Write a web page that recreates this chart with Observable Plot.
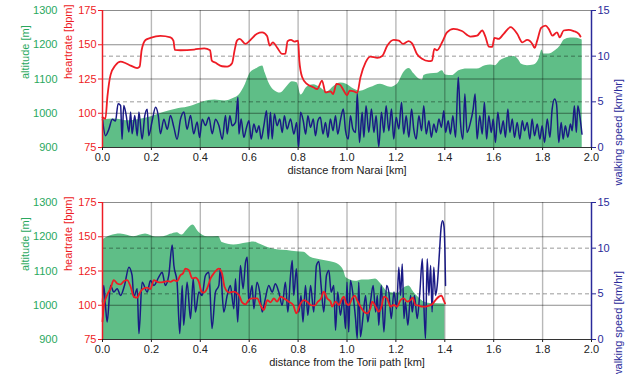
<!DOCTYPE html>
<html><head><meta charset="utf-8">
<script src="https://cdn.jsdelivr.net/npm/d3@7"></script>
<script src="https://cdn.jsdelivr.net/npm/@observablehq/plot@0.6"></script>
<style>
html,body{margin:0;padding:0;background:#fff;}
#chart svg{display:block;}
</style></head><body><div id="chart"></div>
<script>
// ---- tick labels ----
const distanceTicks = [0, 0.2, 0.4, 0.6, 0.8, 1.0, 1.2, 1.4, 1.6, 1.8, 2.0];
const heartTicks = [75, 100, 125, 150, 175];
const altitudeTicks = [900, 1000, 1100, 1200, 1300];
const speedTicks = [0, 5, 10, 15];
const speedGuides = [5, 10];
const titles = ["distance from Narai [km]", "distance from the Torii path [km]"];
const axisTitles = ["altitude [m]", "heartrate [bpm]", "walking speed [km/hr]"];

// ---- panel 1: from Narai  [km, value] ----
const naraiAltitude = [[0.0,980],[0.05,983],[0.1,978],[0.15,982],[0.2,990],[0.25,1002],[0.3,1012],[0.35,1018],[0.4,1030],[0.435,1037],[0.46,1039],[0.5,1036],[0.537,1044],[0.557,1052],[0.585,1085],[0.605,1118],[0.632,1131],[0.655,1138],[0.665,1118],[0.68,1090],[0.7,1068],[0.728,1059],[0.755,1078],[0.776,1092],[0.796,1089],[0.812,1053],[0.836,1076],[0.864,1083],[0.89,1075],[0.918,1062],[0.946,1078],[0.974,1088],[1.0,1084],[1.028,1071],[1.055,1064],[1.096,1075],[1.137,1085],[1.178,1076],[1.206,1085],[1.233,1120],[1.254,1131],[1.274,1115],[1.295,1100],[1.309,1097],[1.315,1110],[1.342,1115],[1.37,1117],[1.39,1124],[1.403,1112],[1.43,1110],[1.458,1124],[1.492,1129],[1.532,1129],[1.566,1139],[1.587,1141],[1.607,1139],[1.628,1154],[1.656,1163],[1.683,1166],[1.703,1155],[1.713,1144],[1.738,1139],[1.764,1141],[1.785,1158],[1.798,1185],[1.805,1173],[1.825,1173],[1.853,1183],[1.874,1198],[1.888,1214],[1.915,1220],[1.942,1219],[1.962,1214]];

const naraiHeart = [[0.0,97],[0.012,96],[0.02,112],[0.033,128],[0.053,135],[0.074,137.7],[0.095,136.5],[0.115,134.8],[0.142,133],[0.152,134],[0.16,146],[0.176,153.5],[0.196,155],[0.237,156.5],[0.278,155.4],[0.29,153],[0.296,146.2],[0.319,146],[0.375,146.5],[0.416,147.4],[0.44,146],[0.447,138.4],[0.461,137],[0.489,134.3],[0.51,134],[0.53,136.5],[0.54,145.7],[0.55,153],[0.561,154.3],[0.585,150.6],[0.605,153.5],[0.632,158],[0.653,159],[0.673,156.3],[0.684,149.4],[0.697,151.8],[0.714,148],[0.735,143.3],[0.748,143.6],[0.757,152.6],[0.771,153.5],[0.785,152.3],[0.8,153],[0.805,138.4],[0.816,126.7],[0.836,121.4],[0.862,119],[0.878,117.7],[0.898,123.8],[0.912,115.2],[0.933,116],[0.943,114],[0.957,121.4],[0.97,121],[0.987,116.5],[1.0,113],[1.011,116.5],[1.028,116],[1.042,115],[1.055,126.2],[1.076,137.2],[1.096,141.4],[1.124,140.4],[1.144,141.8],[1.165,149.4],[1.191,153.5],[1.212,153],[1.229,150.6],[1.252,152.6],[1.266,151],[1.286,143.3],[1.307,139.7],[1.334,138],[1.348,138.4],[1.357,147],[1.368,146],[1.389,151.8],[1.409,159],[1.436,161.6],[1.47,160],[1.505,156],[1.532,156.6],[1.553,160.4],[1.566,156],[1.58,148.7],[1.594,148.4],[1.603,155],[1.62,154.3],[1.641,158],[1.669,162.8],[1.696,158],[1.717,151.8],[1.737,153.5],[1.758,150.6],[1.767,147.7],[1.778,153],[1.794,162.3],[1.812,164],[1.825,161.6],[1.84,156.7],[1.859,159],[1.87,155.4],[1.886,160.4],[1.907,160.9],[1.927,160],[1.948,158],[1.955,156]];

const naraiSpeed = [[0.0,3.1],[0.012,1.3],[0.026,2.0],[0.04,3.1],[0.053,2.9],[0.064,4.8],[0.074,4.6],[0.08,0.9],[0.087,4.6],[0.097,3.5],[0.108,1.7],[0.115,3.9],[0.121,1.5],[0.132,3.5],[0.142,1.3],[0.149,3.9],[0.162,0.9],[0.173,3.5],[0.183,4.2],[0.189,1.3],[0.203,2.9],[0.217,4.4],[0.228,3.5],[0.237,1.5],[0.251,3.1],[0.265,2.0],[0.278,3.5],[0.292,2.2],[0.305,0.9],[0.319,3.1],[0.333,3.9],[0.346,2.0],[0.36,3.5],[0.373,1.5],[0.387,2.8],[0.397,1.1],[0.408,3.1],[0.421,2.4],[0.435,3.3],[0.449,1.5],[0.462,3.1],[0.476,2.4],[0.49,0.9],[0.503,3.5],
[0.51,1.47],[0.521,3.48],[0.53,2.39],[0.544,2.75],[0.554,5.49],[0.558,1.47],[0.567,3.12],[0.578,1.11],[0.589,2.2],[0.599,2.93],[0.608,0.92],[0.619,2.57],[0.63,1.65],[0.64,2.39],[0.649,0.92],[0.66,2.39],[0.671,4.03],[0.678,0.92],[0.687,3.85],[0.694,0.92],[0.703,3.66],[0.714,2.39],[0.725,3.12],[0.735,1.65],[0.744,3.48],[0.755,2.02],[0.769,3.12],[0.783,1.47],[0.794,2.75],[0.802,0.0],[0.81,3.85],[0.821,2.93],[0.831,1.47],[0.84,3.48],[0.851,2.2],[0.862,3.12],[0.871,1.29],[0.881,2.93],[0.891,3.3],[0.902,1.47],[0.912,2.75],[0.922,1.11],[0.932,3.12],[0.943,1.84],[0.953,3.48],[0.962,1.47],[0.974,3.12],[0.985,4.21],[0.994,1.84],
[1.005,0.92],[1.014,3.48],[1.024,2.02],[1.035,1.65],[1.042,5.9],[1.051,0.56],[1.062,3.85],[1.069,1.11],[1.078,4.58],[1.089,1.65],[1.1,4.21],[1.11,1.65],[1.119,3.48],[1.13,0.1],[1.141,3.85],[1.151,1.65],[1.16,4.58],[1.171,1.84],[1.182,4.21],[1.191,0.92],[1.201,3.3],[1.212,2.02],[1.223,4.95],[1.232,1.47],[1.242,3.48],[1.253,1.11],[1.264,4.21],[1.273,2.02],[1.283,0.92],[1.294,3.48],[1.305,1.84],[1.314,4.58],[1.324,1.47],[1.335,2.93],[1.345,1.11],[1.355,2.57],[1.365,1.65],[1.376,3.12],[1.386,2.2],[1.396,4.03],[1.403,1.65],[1.414,2.93],[1.423,1.47],[1.433,3.48],[1.444,1.11],[1.455,7.69],[1.464,2.75],[1.474,0.92],[1.482,5.86],[1.491,1.65],
[1.505,2.75],[1.516,4.21],[1.524,5.86],[1.532,0.92],[1.543,3.48],[1.553,1.47],[1.562,4.95],[1.571,0.92],[1.58,3.48],[1.59,1.65],[1.598,3.12],[1.607,0.56],[1.617,3.85],[1.628,1.47],[1.639,2.93],[1.648,1.11],[1.658,4.21],[1.666,1.65],[1.676,3.12],[1.685,1.11],[1.696,2.75],[1.707,0.92],[1.717,2.93],[1.726,1.84],[1.737,2.75],[1.748,0.92],[1.757,3.12],[1.767,1.29],[1.778,2.57],[1.789,0.92],[1.798,2.39],[1.808,0.56],[1.819,3.12],[1.83,1.11],[1.839,4.21],[1.849,5.31],[1.857,4.76],[1.866,0.56],[1.876,2.75],[1.884,0.92],[1.893,2.39],[1.903,1.11],[1.914,2.57],[1.921,1.84],[1.93,4.58],[1.938,1.65],[1.944,4.58],[1.952,3.48],[1.961,1.47]];

// ---- panel 2: from the Torii path  [km, value] ----
const toriiAltitude = [[0.0,1191],[0.033,1203],[0.074,1208],[0.128,1200],[0.176,1208],[0.217,1199],[0.25,1200],[0.278,1207],[0.305,1212],[0.325,1205],[0.346,1220],[0.37,1234],[0.393,1214],[0.43,1200],[0.475,1201],[0.49,1183],[0.537,1176],[0.59,1182],[0.619,1185],[0.645,1178],[0.673,1169],[0.714,1162],[0.755,1160],[0.795,1156],[0.824,1155],[0.851,1140],[0.89,1133],[0.933,1127],[0.967,1118],[0.987,1100],[0.997,1080],[1.035,1070],[1.062,1074],[1.089,1074],[1.117,1077],[1.138,1063],[1.17,1038],[1.206,1035],[1.232,1050],[1.253,1056],[1.273,1038],[1.294,1022],[1.314,1010],[1.34,1005],[1.4,1004]];

const toriiHeart = [[0.0,88.1],[0.006,100.2],[0.019,107.5],[0.033,112.3],[0.046,118.4],[0.06,115.9],[0.074,115.2],[0.087,117.6],[0.101,118.4],[0.115,113.5],[0.128,106.3],[0.142,105.5],[0.155,109.9],[0.169,112.3],[0.183,112.8],[0.196,111.8],[0.21,118.4],[0.224,117.1],[0.237,116.7],[0.251,117.1],[0.265,117.6],[0.278,117.1],[0.292,118.4],[0.305,117.6],[0.319,122.0],[0.329,123.2],[0.339,126.8],[0.353,125.6],[0.367,119.6],[0.38,120.1],[0.394,117.1],[0.405,109.9],[0.414,109.2],[0.428,112.3],[0.442,119.6],[0.455,123.2],[0.476,126.8],[0.489,123.2],[0.499,113.5],[0.517,109.4],[0.537,109.9],[0.558,107.5],[0.571,102.1],[0.585,100.7],[0.598,103.8],[0.612,105.0],[0.633,105.0],[0.646,100.2],[0.66,96.6],[0.674,103.8],[0.687,102.1],[0.701,105.0],[0.714,102.6],[0.728,106.3],[0.742,105.0],[0.762,102.6],[0.78,100.2],[0.793,94.1],[0.807,100.2],[0.824,103.8],[0.837,102.6],[0.851,100.2],[0.867,99.7],[0.881,102.6],[0.894,105.0],[0.905,109.9],[0.919,105.0],[0.933,102.6],[0.939,99.0],[0.953,102.6],[0.967,100.2],[0.98,105.0],[0.987,106.3],[0.997,101.4],[1.008,100.2],[1.021,105.0],[1.032,107.0],[1.041,103.8],[1.055,99.0],[1.069,95.3],[1.082,94.1],[1.096,97.8],[1.103,102.6],[1.117,99.0],[1.13,95.3],[1.141,99.0],[1.151,106.3],[1.164,105.0],[1.178,99.0],[1.191,100.2],[1.205,99.0],[1.219,103.8],[1.232,105.0],[1.246,102.6],[1.26,103.8],[1.269,105.5],[1.28,100.2],[1.294,99.7],[1.307,99.0],[1.321,99.0],[1.335,99.7],[1.348,100.7],[1.362,103.8],[1.376,106.3],[1.387,107.0],[1.396,103.3],[1.401,101.3]];

const toriiSpeed = [[0.0,4.1],[0.005,5.92],[0.012,3.74],[0.019,1.92],[0.033,5.92],[0.046,5.19],[0.06,5.56],[0.074,4.83],[0.09,5.92],[0.108,7.92],[0.121,7.01],[0.128,4.65],[0.142,5.56],[0.149,0.65],[0.162,6.28],[0.183,5.19],[0.196,6.47],[0.21,5.92],[0.23,6.83],[0.244,7.37],[0.257,5.92],[0.271,7.01],[0.285,10.35],[0.292,8.1],[0.305,6.28],[0.316,0.65],[0.326,5.92],[0.332,1.56],[0.346,6.28],[0.36,2.29],[0.371,6.65],[0.38,3.01],[0.394,5.19],[0.407,4.83],[0.421,7.01],[0.435,7.37],[0.448,1.2],[0.462,5.19],[0.476,5.92],[0.482,7.74],[0.496,3.01],[0.51,4.83],[0.523,5.92],[0.537,3.38],[0.544,6.65],[0.553,1.92],[0.564,8.1],[0.575,5.56],[0.585,8.46],[0.592,9.01],[0.598,4.1],[0.612,5.92],[0.619,3.38],[0.632,6.28],[0.643,5.19],[0.653,3.01],[0.666,4.47],[0.68,5.92],[0.694,5.19],[0.707,6.1],[0.721,5.19],[0.735,3.74],[0.748,6.28],[0.758,3.01],[0.769,7.01],[0.776,8.65],[0.782,4.83],[0.793,7.74],[0.803,3.01],[0.812,4.83],[0.82,1.92],[0.83,5.92],[0.84,2.65],
[0.851,5.92],[0.864,3.01],[0.875,8.1],[0.885,8.54],[0.894,5.92],[0.905,3.01],[0.916,7.01],[0.926,7.56],[0.935,5.19],[0.946,5.92],[0.953,1.02],[0.962,5.19],[0.973,2.65],[0.984,4.47],[0.994,1.2],[1.0,6.28],[1.007,0.83],[1.014,6.47],[1.025,4.83],[1.035,2.29],[1.042,0.11],[1.048,6.28],[1.055,0.29],[1.066,2.65],[1.076,4.83],[1.085,1.92],[1.096,4.1],[1.107,5.92],[1.117,3.01],[1.124,4.83],[1.13,1.56],[1.14,5.92],[1.151,0.83],[1.162,5.92],[1.171,5.19],[1.181,2.29],[1.192,5.19],[1.203,3.38],[1.212,7.92],[1.219,4.83],[1.226,8.28],[1.233,2.29],[1.239,4.1],[1.249,1.56],[1.26,4.83],[1.267,3.01],[1.276,4.83],[1.287,2.29],[1.298,5.19],[1.308,8.83],[1.314,4.1],[1.321,0.11],[1.328,8.83],[1.335,4.83],[1.342,8.1],[1.348,3.01],[1.355,7.92],[1.362,4.83],[1.369,5.92],[1.378,9.5],[1.385,12.3],[1.391,13.0],[1.397,12.3],[1.401,9.0],[1.403,5.9]];

// ---- styling ----
const GREEN = "#5fbe87";
const GREEN_TEXT = "#2aa85e";
const RED = "#ee1c25";
const BLUE = "#1a1a85";
const BLUE_AXIS = "#2a2a9a";

// altitude 900..1300 and speed 0..15 share the heartrate frame 75..175
const altToY = a => 75 + (a - 900) / 4;
const spdToY = s => 75 + s * 100 / 15;

function panel({altitude, heart, speed, title, height, marginTop, marginBottom}) {
  return Plot.plot({
    width: 630, height, marginLeft: 102, marginRight: 39, marginTop, marginBottom,
    style: {fontFamily: "'Liberation Sans', Arial, sans-serif", fontSize: "11px", background: "#fff", color: "#222"},
    x: {domain: [0, 2], axis: null},
    y: {domain: [75, 175], axis: null},
    marks: [
      Plot.areaY(altitude, {x: d => d[0], y1: () => 75, y2: d => altToY(d[1]), fill: GREEN, curve: "monotone-x"}),
      Plot.ruleX(distanceTicks.filter(d => d > 0 && d < 2), {stroke: "#000", strokeOpacity: 0.28, strokeWidth: 1.4}),
      Plot.ruleY(heartTicks.filter(d => d > 75), {stroke: "#000", strokeOpacity: 0.45, strokeWidth: 1}),
      Plot.ruleY(speedGuides, {y: spdToY, stroke: "#000", strokeOpacity: 0.4, strokeDasharray: "4,3"}),
      Plot.line(speed, {x: d => d[0], y: d => spdToY(d[1]), stroke: BLUE, strokeWidth: 1.5, curve: "monotone-x"}),
      Plot.line(heart, {x: d => d[0], y: d => d[1], stroke: RED, strokeWidth: 1.8, curve: "monotone-x"}),
      Plot.ruleY([75], {stroke: "#333", strokeWidth: 1.2}),
      Plot.ruleX([0], {stroke: RED, strokeWidth: 1.5}),
      Plot.ruleX([2], {stroke: BLUE_AXIS, strokeWidth: 1.5}),
      Plot.axisX({anchor: "bottom", ticks: distanceTicks, tickFormat: d3.format(".1f"), tickSize: 3, tickPadding: 3, label: null, color: "#222"}),
      Plot.axisY({anchor: "left", ticks: heartTicks, tickSize: 4, tickPadding: 2, label: null, color: RED}),
      Plot.axisY({anchor: "right", ticks: speedTicks.map(spdToY), tickFormat: y => String(Math.round((y - 75) * 0.15)), tickSize: 4, tickPadding: 2, label: null, color: BLUE_AXIS}),
      Plot.text(altitudeTicks, {y: altToY, text: d => String(d), frameAnchor: "left", textAnchor: "end", dx: -45, fill: GREEN_TEXT}),
      Plot.text([axisTitles[0]], {text: d => d, frameAnchor: "left", dx: -77, rotate: -90, fill: GREEN_TEXT}),
      Plot.text([axisTitles[1]], {text: d => d, frameAnchor: "left", dx: -34, rotate: -90, fill: RED}),
      Plot.text([axisTitles[2]], {text: d => d, frameAnchor: "right", dx: 27, rotate: -90, fill: BLUE_AXIS}),
      Plot.text([title], {text: d => d, frameAnchor: "bottom", dy: 26, fill: "#222"})
    ]
  });
}

const chart = document.getElementById("chart");
chart.append(panel({altitude: naraiAltitude, heart: naraiHeart, speed: naraiSpeed, title: titles[0], height: 187, marginTop: 10, marginBottom: 40}));
chart.append(panel({altitude: toriiAltitude, heart: toriiHeart, speed: toriiSpeed, title: titles[1], height: 187, marginTop: 15, marginBottom: 35}));
</script>
</body></html>
